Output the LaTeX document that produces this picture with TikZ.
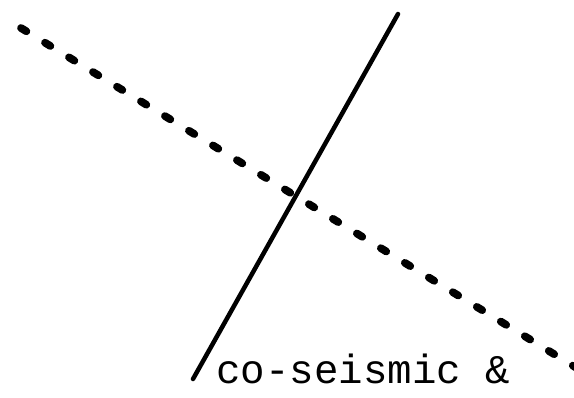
\documentclass[tikz,border=0pt]{standalone}
\usepackage{fontspec}
\newfontfamily\labelfont{Liberation Mono}
\usetikzlibrary{positioning}

\tikzset{
  faultline/.style={line width=5.5pt, line cap=round, dash pattern=on 4.5pt off 15.5pt},
  rupture/.style={line width=3.2pt, line cap=round},
  caption/.style={anchor=base west, inner sep=0pt, font=\labelfont\fontsize{29}{34}\selectfont}
}

\begin{document}
\begin{tikzpicture}[x=0.025cm, y=-0.025cm]
        \useasboundingbox (0,0) rectangle (574,397);

        % Dashed line
        \coordinate (dashA) at (21,28);
        \coordinate (dashB) at (580,370);
        \draw[faultline] (dashA) -- (dashB);

        % Solid line
        \coordinate (solidA) at (398,14);
        \coordinate (solidB) at (193,379);
        \draw[rupture] (solidA) -- (solidB);

        % Label
        \node[caption] (label) at (216,383) {co-seismic \&};
\end{tikzpicture}
\end{document}
